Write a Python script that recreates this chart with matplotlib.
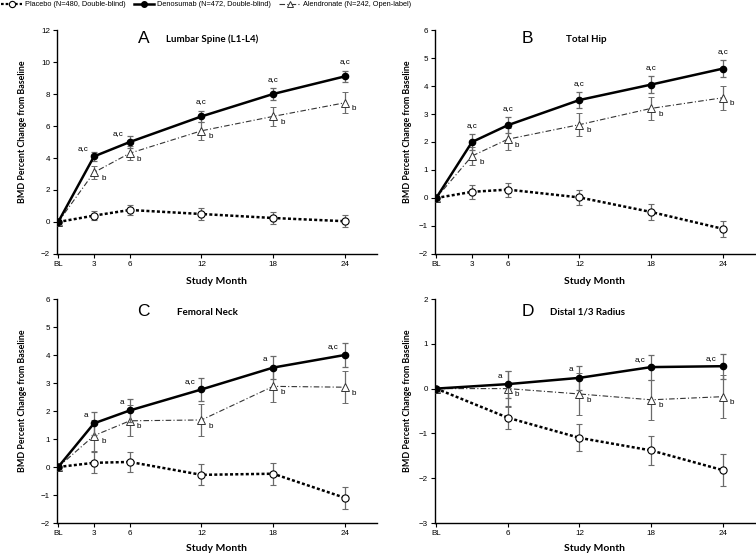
import matplotlib
matplotlib.use("Agg")
import matplotlib.pyplot as plt
from matplotlib.lines import Line2D

months_main = [0, 3, 6, 12, 18, 24]
labels_main = ["BL", "3", "6", "12", "18", "24"]
months_rad = [0, 6, 12, 18, 24]
labels_rad = ["BL", "6", "12", "18", "24"]

# Panel A - Lumbar spine
a_dmab = [0, 4.1, 5.0, 6.6, 8.0, 9.1]
a_dmab_err = [0, 0.3, 0.35, 0.35, 0.35, 0.35]
a_aln = [0, 3.1, 4.3, 5.7, 6.6, 7.45]
a_aln_err = [0, 0.4, 0.45, 0.55, 0.6, 0.65]
a_pbo = [0, 0.4, 0.75, 0.5, 0.25, 0.05]
a_pbo_err = [0, 0.3, 0.3, 0.35, 0.38, 0.38]
a_dmab_lab = ["", "a,c", "a,c", "a,c", "a,c", "a,c"]

# Panel B - Total hip
b_dmab = [0, 2.0, 2.6, 3.5, 4.05, 4.62]
b_dmab_err = [0, 0.27, 0.28, 0.28, 0.3, 0.3]
b_aln = [0, 1.5, 2.1, 2.62, 3.2, 3.58]
b_aln_err = [0, 0.32, 0.4, 0.42, 0.42, 0.43]
b_pbo = [0, 0.22, 0.3, 0.02, -0.5, -1.1]
b_pbo_err = [0, 0.25, 0.25, 0.27, 0.28, 0.28]
b_dmab_lab = ["", "a,c", "a,c", "a,c", "a,c", "a,c"]

# Panel C - Femoral neck
c_dmab = [0, 1.56, 2.02, 2.77, 3.55, 4.0]
c_dmab_err = [0, 0.42, 0.42, 0.42, 0.42, 0.42]
c_aln = [0, 1.12, 1.65, 1.68, 2.88, 2.85]
c_aln_err = [0, 0.55, 0.55, 0.57, 0.57, 0.57]
c_pbo = [0, 0.15, 0.18, -0.28, -0.24, -1.1]
c_pbo_err = [0, 0.37, 0.37, 0.37, 0.4, 0.4]
c_dmab_lab = ["", "a", "a", "a,c", "a", "a,c"]

# Panel D - Distal 1/3 radius
d_dmab = [0, 0.1, 0.24, 0.48, 0.5]
d_dmab_err = [0, 0.3, 0.27, 0.28, 0.28]
d_aln = [0, 0.0, -0.12, -0.25, -0.18]
d_aln_err = [0, 0.4, 0.46, 0.45, 0.48]
d_pbo = [0, -0.65, -1.1, -1.38, -1.82]
d_pbo_err = [0, 0.26, 0.3, 0.33, 0.36]
d_dmab_lab = ["", "a", "a", "a,c", "a,c"]

panels = [
    dict(letter="A", title="Lumbar Spine (L1-L4)", x=months_main, xl=labels_main,
         dm=a_dmab, dme=a_dmab_err, al=a_aln, ale=a_aln_err, pb=a_pbo, pbe=a_pbo_err,
         lab=a_dmab_lab, ylim=(-2, 12), yt=list(range(-2, 13, 2)), lababove=False,
         pos=[57/756, 1-254/556, 320/756, 224/556], tx=0.27, ttx=0.34, ty=0.962, xlp=6.5,
         ylx=-0.094),
    dict(letter="B", title="Total Hip", x=months_main, xl=labels_main,
         dm=b_dmab, dme=b_dmab_err, al=b_aln, ale=b_aln_err, pb=b_pbo, pbe=b_pbo_err,
         lab=b_dmab_lab, ylim=(-2, 6), yt=list(range(-2, 7)), lababove=True,
         pos=[435/756, 1-254/556, 320/756, 224/556], tx=0.29, ttx=0.41, ty=0.962, xlp=6.5,
         ylx=-0.072),
    dict(letter="C", title="Femoral Neck", x=months_main, xl=labels_main,
         dm=c_dmab, dme=c_dmab_err, al=c_aln, ale=c_aln_err, pb=c_pbo, pbe=c_pbo_err,
         lab=c_dmab_lab, ylim=(-2, 6), yt=list(range(-2, 7)), lababove=False,
         pos=[57/756, 1-523/556, 320/756, 224/556], tx=0.27, ttx=0.375, ty=0.943, xlp=5,
         ylx=-0.094),
    dict(letter="D", title="Distal 1/3 Radius", x=months_rad, xl=labels_rad,
         dm=d_dmab, dme=d_dmab_err, al=d_aln, ale=d_aln_err, pb=d_pbo, pbe=d_pbo_err,
         lab=d_dmab_lab, ylim=(-3, 2), yt=list(range(-3, 3)), lababove=False,
         pos=[435/756, 1-523/556, 320/756, 224/556], tx=0.29, ttx=0.36, ty=0.946, xlp=5,
         ylx=-0.072),
]

BOLD = "Lato"
TICKF = "Liberation Sans"
ecol = "#6a6a6a"
FS = 5.8

fig = plt.figure(figsize=(7.56, 5.56), dpi=100)

for p in panels:
    ax = fig.add_axes(p["pos"])
    x = p["x"]
    ekw = dict(ecolor=ecol, elinewidth=0.9, capsize=2.5, capthick=0.9)
    ax.errorbar(x, p["pb"], yerr=p["pbe"], color="black", lw=1.8, ls=(0, (1.2, 0.9)),
                marker="o", ms=5.2, mfc="white", mec="black", mew=0.8, zorder=3, **ekw)
    ax.errorbar(x, p["al"], yerr=p["ale"], color="#333333", lw=0.8, ls=(0, (5, 2, 1, 2)),
                marker="^", ms=5.5, mfc="white", mec="#333333", mew=0.7, zorder=4, **ekw)
    ax.errorbar(x, p["dm"], yerr=p["dme"], color="black", lw=1.8, ls="-",
                marker="o", ms=4.5, mfc="black", mec="black", zorder=5, **ekw)
    yr = p["ylim"][1] - p["ylim"][0]
    for xi, yi, ei, s in zip(x, p["dm"], p["dme"], p["lab"]):
        if not s:
            continue
        if p["lababove"] or (p["letter"] == "A" and xi >= 12):
            ax.text(xi, yi + ei + 0.025 * yr, s, ha="center", va="bottom",
                    fontsize=FS, family=TICKF)
        else:
            ax.text(xi - 0.5, yi + 0.02 * yr, s, ha="right", va="bottom",
                    fontsize=FS, family=TICKF)
    for xi, yi in zip(x, p["al"]):
        if xi == 0:
            continue
        ax.text(xi + 0.6, yi - 0.012 * yr, "b", ha="left", va="top",
                fontsize=FS, family=TICKF)
    ax.set_xlim(-0.1, 26.7)
    ax.set_ylim(*p["ylim"])
    ax.set_xticks(x)
    ax.set_xticklabels(p["xl"])
    ax.set_yticks(p["yt"])
    ax.set_yticklabels([str(v).replace("-", "\u2212") for v in p["yt"]])
    for s in ["top", "right"]:
        ax.spines[s].set_visible(False)
    for s in ["left", "bottom"]:
        ax.spines[s].set_linewidth(1.0)
    ax.tick_params(direction="out", length=3, width=0.8, labelsize=FS, pad=2)
    for t in ax.get_xticklabels() + ax.get_yticklabels():
        t.set_family(TICKF)
    ax.set_xlabel("Study Month", fontsize=7.5, fontweight="bold", family=BOLD,
                  labelpad=p["xlp"])
    ax.set_ylabel("BMD Percent Change from Baseline", fontsize=6.4, fontweight="bold",
                  family=BOLD)
    ax.yaxis.set_label_coords(p["ylx"], 0.545)
    ax.text(p["tx"], p["ty"], p["letter"], transform=ax.transAxes, fontsize=12.5,
            family=TICKF, ha="center", va="center")
    ax.text(p["ttx"], p["ty"] - 0.005, p["title"], transform=ax.transAxes, fontsize=7,
            fontweight="bold", family=BOLD, ha="left", va="center")

handles = [
    Line2D([], [], color="black", lw=1.6, ls=(0, (1.2, 0.9)), marker="o", ms=4.5,
           mfc="white", mec="black", mew=0.8),
    Line2D([], [], color="black", lw=1.8, ls="-", marker="o", ms=4, mfc="black"),
    Line2D([], [], color="#333333", lw=0.8, ls=(0, (5, 2, 1, 2)), marker="^", ms=5,
           mfc="white", mec="#333333", mew=0.7),
]
names = ["Placebo (N=480, Double-blind)", "Denosumab (N=472, Double-blind)",
         "Alendronate (N=242, Open-label)"]
fig.legend(handles, names, loc="upper left", bbox_to_anchor=(-0.004, 1.006), ncol=3,
           frameon=False, prop={"family": TICKF, "size": 5.3}, handlelength=2.8,
           handletextpad=0.4, columnspacing=1.1, borderaxespad=0.2)

fig.savefig("out.png", dpi=100)
